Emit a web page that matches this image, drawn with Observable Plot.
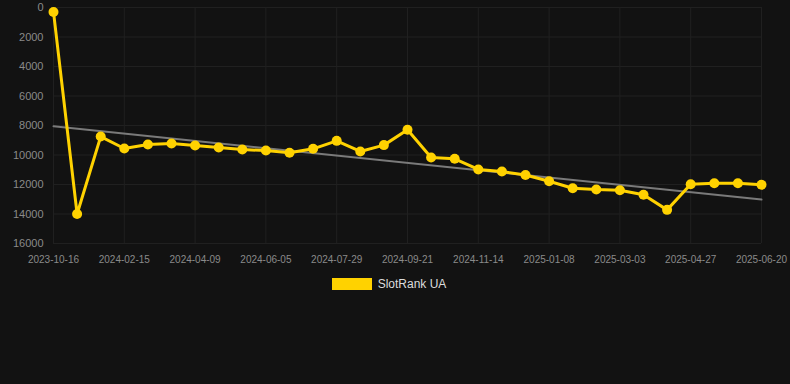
<!DOCTYPE html>
<html><head><meta charset="utf-8">
<script src="https://cdn.jsdelivr.net/npm/d3@7"></script>
<script src="https://cdn.jsdelivr.net/npm/@observablehq/plot@0.6"></script>
<style>
html,body{margin:0;padding:0;background:#121212;}
body{width:790px;height:384px;overflow:hidden;font-family:"Liberation Sans",Arial,Helvetica,sans-serif;}
#legend{display:flex;align-items:center;justify-content:center;height:32px;gap:6px;color:#dcdcdc;font-size:12px;padding-right:12px;}
#legend .sw{width:40px;height:12px;background:#ffd200;}
</style></head><body>
<div id="chart"></div>
<div id="legend"><span class="sw"></span><span>SlotRank UA</span></div>
<script>
const dates = ["2023-10-16","2024-01-10","2024-01-28","2024-02-15","2024-03-04","2024-03-22","2024-04-09","2024-04-28","2024-05-17","2024-06-05","2024-06-23","2024-07-11","2024-07-29","2024-08-16","2024-09-03","2024-09-21","2024-10-09","2024-10-27","2024-11-14","2024-12-02","2024-12-20","2025-01-08","2025-01-26","2025-02-13","2025-03-03","2025-03-21","2025-04-08","2025-04-27","2025-05-15","2025-06-02","2025-06-20"];
const ranks = [300,14000,8750,9560,9290,9220,9360,9490,9630,9700,9850,9580,9040,9760,9330,8290,10170,10260,10980,11120,11360,11780,12250,12340,12390,12700,13720,11980,11910,11910,12020];
const trendStartEnd = [8050, 13020];
const xTickLabels = ["2023-10-16","2024-02-15","2024-04-09","2024-06-05","2024-07-29","2024-09-21","2024-11-14","2025-01-08","2025-03-03","2025-04-27","2025-06-20"];
const yTicks = [0,2000,4000,6000,8000,10000,12000,14000,16000];
const seriesName = "SlotRank UA";

const data = dates.map((d,i)=>({date:d, rank:ranks[i]}));
const trend = [{date:dates[0], rank:trendStartEnd[0]},{date:dates[dates.length-1], rank:trendStartEnd[1]}];

const chart = Plot.plot({
  width:790, height:268,
  marginTop:7, marginBottom:25, marginLeft:53, marginRight:29,
  style:{background:"#121212", color:"#8a8a8a", fontFamily:"'Liberation Sans',Arial,Helvetica,sans-serif"},
  x:{type:"point", domain:dates, padding:0, round:false},
  y:{domain:[0,16000], reverse:true},
  marks:[
    Plot.gridY(yTicks,{stroke:"#202020", strokeOpacity:1}),
    Plot.gridX(xTickLabels,{stroke:"#202020", strokeOpacity:1}),
    Plot.axisY(yTicks,{tickSize:0, tickPadding:10, tickFormat:d3.format("d"), fontSize:11, fill:"#8a8a8a", label:null}),
    Plot.axisX(xTickLabels,{tickSize:0, tickPadding:12, fontSize:10, fill:"#8a8a8a", label:null}),
    Plot.line(trend,{x:"date", y:"rank", stroke:"#7a7a7a", strokeWidth:2}),
    Plot.line(data,{x:"date", y:"rank", stroke:"#ffd200", strokeWidth:3}),
    Plot.dot(data,{x:"date", y:"rank", r:5, fill:"#ffd200", stroke:null})
  ]
});
document.getElementById("chart").append(chart);
</script>
</body></html>
